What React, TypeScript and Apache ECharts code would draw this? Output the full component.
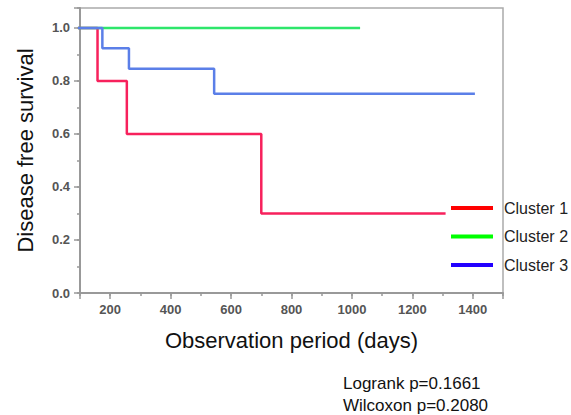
import React, { useEffect, useRef } from "react";
import * as echarts from "echarts";

const cluster1Days = [0, 158, 255, 700, 1310];
const cluster1Surv = [1, 0.8, 0.6, 0.3, 0.3];
const cluster2Days = [0, 1027];
const cluster2Surv = [1, 1];
const cluster3Days = [0, 174, 262, 544, 1407];
const cluster3Surv = [1, 0.923, 0.846, 0.752, 0.752];

const seriesNames = ["Cluster 1", "Cluster 2", "Cluster 3"];
const curveColors = ["#f7215c", "#2ee66b", "#5b7fe8"];
const legendColors = ["#ff0000", "#00ff00", "#2200ff"];
const statsLines = ["Logrank p=0.1661", "Wilcoxon p=0.2080"];

const FONT = "'Liberation Sans', Arial, Helvetica, sans-serif";

function zip(xs: number[], ys: number[]) {
  return xs.map((x, i) => [x, ys[i]]);
}

export default function App() {
  const ref = useRef<HTMLDivElement>(null);
  useEffect(() => {
    if (!ref.current) return;
    const chart = echarts.init(ref.current, undefined, { renderer: "svg" });
    const datasets = [
      zip(cluster1Days, cluster1Surv),
      zip(cluster2Days, cluster2Surv),
      zip(cluster3Days, cluster3Surv),
    ];
    const axisLabelStyle = {
      fontFamily: FONT,
      fontSize: 13,
      fontWeight: "bold" as const,
      color: "#555",
    };
    chart.setOption({
      animation: false,
      backgroundColor: "#fff",
      grid: {
        left: 80,
        top: 8,
        right: 68,
        bottom: 122,
        show: true,
        borderColor: "#aaa",
        borderWidth: 1.5,
      },
      legend: {
        orient: "vertical",
        left: 451,
        top: 200,
        padding: 0,
        itemWidth: 42,
        itemHeight: 4,
        itemGap: 12.5,
        icon: "rect",
        textStyle: {
          fontFamily: FONT,
          fontSize: 16,
          color: "#222",
          padding: [0, 0, 0, 6],
        },
        data: seriesNames.map((n, i) => ({
          name: n,
          icon: "rect",
          itemStyle: { color: legendColors[i] },
        })),
      },
      xAxis: [
        {
          type: "value",
          min: 100,
          max: 1500,
          splitNumber: 7,
          name: "Observation period (days)",
          nameLocation: "middle",
          nameGap: 36,
          nameTextStyle: { fontFamily: FONT, fontSize: 22, color: "#111" },
          axisLine: { show: true, lineStyle: { color: "#999", width: 2 } },
          axisTick: { show: true, length: 6, lineStyle: { color: "#999", width: 1.5 } },
          axisLabel: {
            ...axisLabelStyle,
            margin: 10,
            formatter: (v: number) => (v % 200 === 0 ? String(v) : ""),
          },
          splitLine: { show: false },
        },
        {
          type: "value",
          position: "bottom",
          min: 100,
          max: 1500,
          interval: 100,
          axisLine: { show: false },
          axisTick: { show: true, length: 3, lineStyle: { color: "#999", width: 1.5 } },
          axisLabel: { show: false },
          splitLine: { show: false },
        },
      ],
      yAxis: [
        {
          type: "value",
          min: 0,
          max: 1.075,
          interval: 0.2,
          name: "Disease free survival",
          nameLocation: "middle",
          nameGap: 44,
          nameTextStyle: { fontFamily: FONT, fontSize: 22, color: "#111" },
          axisLine: { show: true, lineStyle: { color: "#999", width: 2 } },
          axisTick: { show: true, length: 6, lineStyle: { color: "#999", width: 1.5 } },
          axisLabel: {
            ...axisLabelStyle,
            margin: 10,
            formatter: (v: number) =>
              Math.abs(v * 5 - Math.round(v * 5)) < 1e-6 ? v.toFixed(1) : "",
          },
          splitLine: { show: false },
        },
        {
          type: "value",
          position: "left",
          min: 0,
          max: 1.075,
          interval: 0.1,
          axisLine: { show: false },
          axisTick: { show: true, length: 3, lineStyle: { color: "#999", width: 1.5 } },
          axisLabel: { show: false },
          splitLine: { show: false },
        },
      ],
      series: datasets.map((d, i) => ({
        name: seriesNames[i],
        type: "line",
        step: "end",
        data: d,
        xAxisIndex: 0,
        yAxisIndex: 0,
        showSymbol: false,
        symbol: "none",
        clip: true,
        color: curveColors[i],
        lineStyle: { color: curveColors[i], width: 2.5 },
        z: 2 + i,
      })),
      graphic: statsLines.map((t, i) => ({
        type: "text",
        left: 343,
        top: 375 + i * 22,
        style: {
          text: t,
          font: `17px ${FONT}`,
          fill: "#111",
        },
      })),
    });
    return () => chart.dispose();
  }, []);
  return (
    <div
      ref={ref}
      style={{ position: "fixed", left: 0, top: 0, width: 571, height: 415 }}
    />
  );
}
